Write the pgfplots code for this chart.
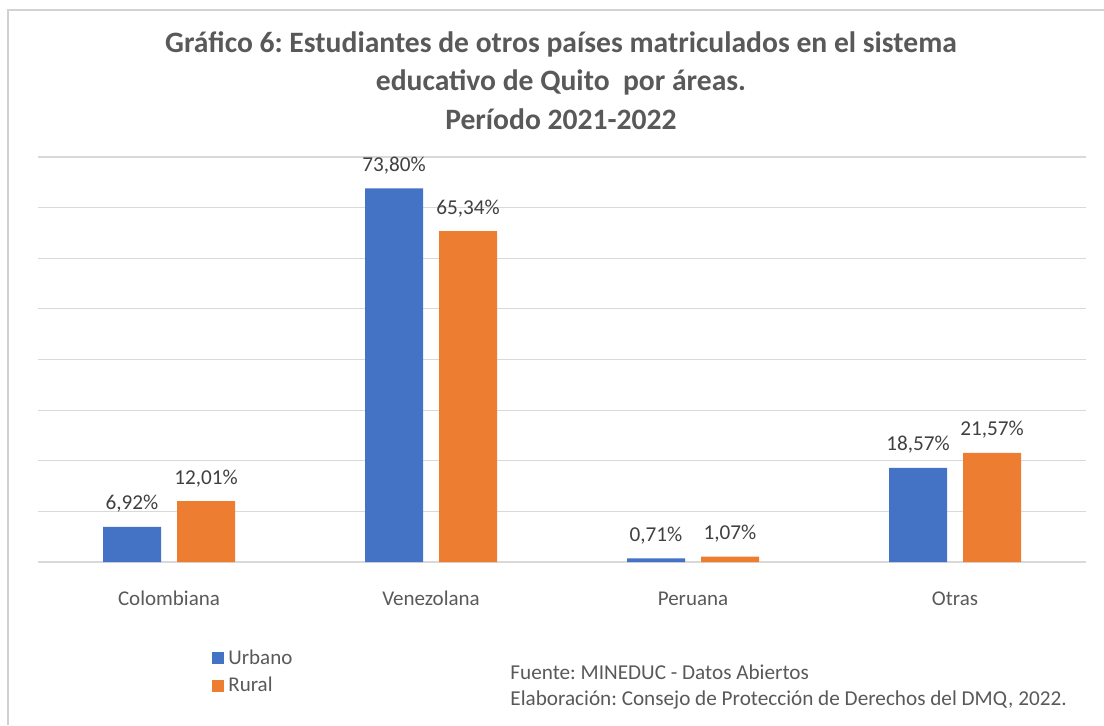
\documentclass[border=0pt]{standalone}
\usepackage{fontspec}
\setmainfont{Carlito}
\usepackage{pgfplots}
\pgfplotsset{compat=1.18}
\frenchspacing

\definecolor{urbano}{HTML}{4472C4}
\definecolor{rural}{HTML}{ED7D31}
\definecolor{txtgray}{HTML}{595959}
\definecolor{lblgray}{HTML}{404040}
\definecolor{gridgray}{HTML}{D9D9D9}

\begin{document}
\begin{tikzpicture}[x=0.5pt,y=0.5pt]
% page is 1104 x 725 "pixels"
\path[use as bounding box] (0,0) rectangle (1104,725);
\draw[gray!35, line width=0.8pt] (8,0) -- (8,715) -- (1104,715);

% title, three lines
\node[anchor=base, font=\fontsize{14.8}{18}\selectfont\bfseries, text=txtgray] at (561,673)
  {Gráfico 6: Estudiantes de otros países matriculados en el sistema};
\node[anchor=base, font=\fontsize{14.8}{18}\selectfont\bfseries, text=txtgray] at (561,634)
  {educativo de Quito\ \ por áreas.};
\node[anchor=base, font=\fontsize{14.8}{18}\selectfont\bfseries, text=txtgray] at (561,596)
  {Período 2021-2022};

\begin{axis}[
    at={(19pt,81.5pt)}, anchor=south west,
    scale only axis,
    width=524pt, height=202.5pt,
    ybar=8pt, bar width=29pt,
    xmin=-0.5, xmax=3.5,
    ymin=0, ymax=80,
    xtick={0,1,2,3},
    xticklabels={Colombiana, Venezolana, Peruana, Otras},
    ytick={0,10,...,80},
    yticklabels={},
    ymajorgrids,
    grid style={gridgray, line width=0.6pt},
    axis line style={draw=none},
    tick style={draw=none},
    xticklabel style={font=\fontsize{10.5}{12.5}\selectfont, text=txtgray, anchor=base, inner sep=0pt, yshift=-17.5pt},
    /pgf/number format/assume math mode=true,
    nodes near coords={\pgfmathprintnumber[fixed,zerofill,precision=2,use comma]{\pgfplotspointmeta}\%},
    every node near coord/.append style={font=\fontsize{10.6}{12.5}\selectfont, text=lblgray, anchor=base, inner sep=0pt, yshift=8.5pt},
    clip=false,
    legend image code/.code={\fill[#1] (0pt,-3pt) rectangle (6pt,3pt);},
    legend style={draw=none, fill=none, at={(0.166,-0.205)}, anchor=north west,
        font=\fontsize{10.5}{12.5}\selectfont, text=txtgray, row sep=1pt, inner sep=0pt,
        nodes={inner sep=2pt}},
    legend cell align=left,
]
\addplot[fill=urbano, draw=none] coordinates {(0,6.92) (1,73.80) (2,0.71) (3,18.57)};
\addplot[fill=rural, draw=none] coordinates {(0,12.01) (1,65.34) (2,1.07) (3,21.57)};
\legend{Urbano, Rural}
\end{axis}

% source notes
\node[anchor=base west, font=\fontsize{10.6}{12.5}\selectfont, text=txtgray, inner sep=0pt] at (510,46)
  {Fuente: MINEDUC - Datos Abiertos};
\node[anchor=base west, font=\fontsize{10.6}{12.5}\selectfont, text=txtgray, inner sep=0pt] at (510,20)
  {Elaboración: Consejo de Protección de Derechos del DMQ, 2022.};
\end{tikzpicture}
\end{document}
